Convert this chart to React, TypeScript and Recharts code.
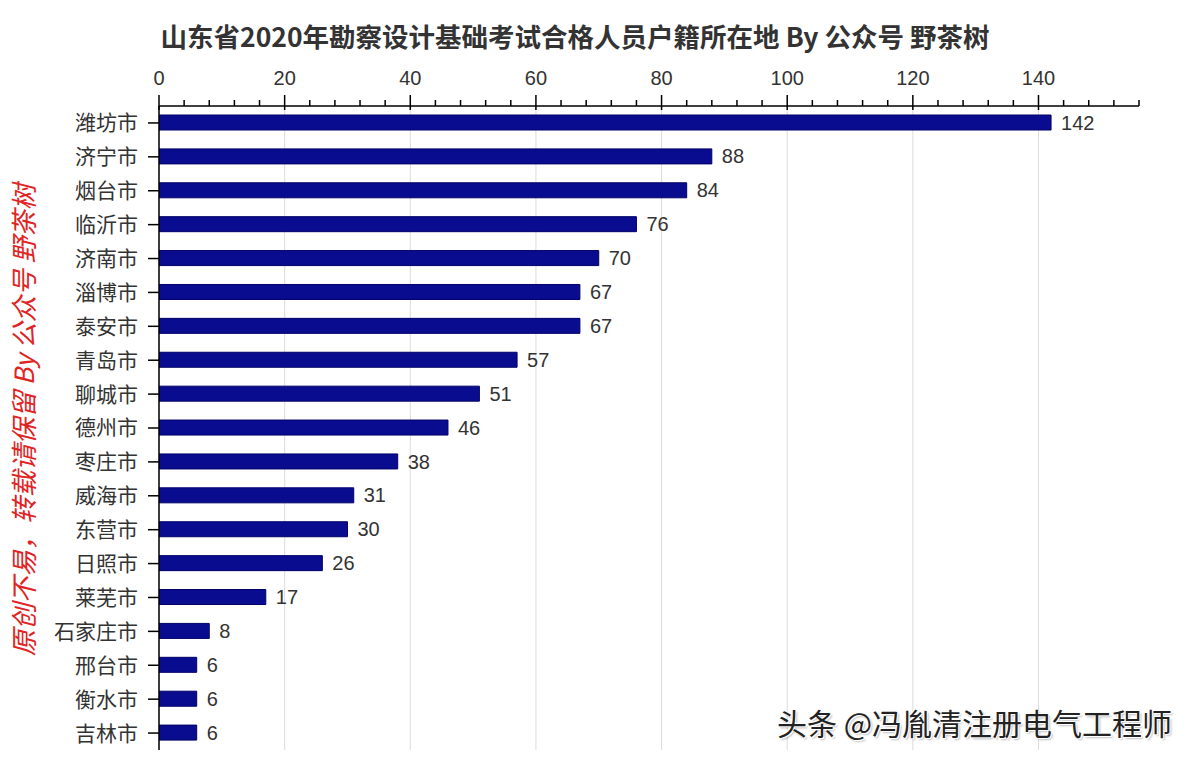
import { Bar, BarChart, CartesianGrid, LabelList, XAxis, YAxis } from 'recharts';

const cities = [
	'潍坊市', '济宁市', '烟台市', '临沂市', '济南市', '淄博市', '泰安市', '青岛市', '聊城市', '德州市',
	'枣庄市', '威海市', '东营市', '日照市', '莱芜市', '石家庄市', '邢台市', '衡水市', '吉林市',
];
const counts = [142, 88, 84, 76, 70, 67, 67, 57, 51, 46, 38, 31, 30, 26, 17, 8, 6, 6, 6];

const xTicks = [
	0, 4, 8, 12, 16, 20, 24, 28, 32, 36, 40, 44, 48, 52, 56, 60, 64, 68, 72, 76, 80, 84, 88, 92, 96, 100, 104,
	108, 112, 116, 120, 124, 128, 132, 136, 140, 144, 148, 152, 156,
];
const majorTicks = [0, 20, 40, 60, 80, 100, 120, 140];

const chartTitle = '山东省2020年勘察设计基础考试合格人员户籍所在地 By 公众号 野茶树';
const sideMark = '原创不易，转载请保留 By 公众号 野茶树';
const cornerMark = '头条 @冯胤清注册电气工程师';

const FONT = "'Liberation Sans', 'Noto Sans CJK SC', sans-serif";

const data = cities.map((name, i) => ({ name, count: counts[i] }));

const TopTick = (props: any) => {
	const { x, y, payload } = props;
	const major = majorTicks.includes(payload.value);
	return (
		<g>
			<line x1={x} x2={x} y1={major ? y - 11 : y - 6} y2={major ? y + 4 : y} stroke="#000" strokeWidth={1.5} />
			{major && (
				<text x={x} y={y - 21} textAnchor="middle" fontSize={20} fill="#333" fontFamily={FONT}>
					{payload.value}
				</text>
			)}
		</g>
	);
};

export default function App() {
	return (
		<div
			style={{
				position: 'absolute',
				left: 0,
				top: 0,
				width: 1200,
				height: 760,
				background: '#fff',
				fontFamily: FONT,
				overflow: 'hidden',
			}}
		>
			<div
				style={{
					position: 'absolute',
					left: 575,
					top: 35,
					transform: 'translate(-50%, -50%)',
					whiteSpace: 'nowrap',
					fontFamily: "'Noto Sans CJK SC', sans-serif",
					fontWeight: 700,
					fontSize: 26.5,
					color: '#333',
				}}
			>
				{chartTitle}
			</div>

			<BarChart
				width={1200}
				height={760}
				data={data}
				layout="vertical"
				margin={{ top: 46, right: 61, bottom: 10, left: 0 }}
			>
				<CartesianGrid horizontal={false} verticalValues={majorTicks} stroke="#dcdcdc" />
				<XAxis
					type="number"
					orientation="top"
					domain={[0, 156]}
					ticks={xTicks}
					interval={0}
					allowDataOverflow
					height={60}
					tickLine={false}
					tickSize={0}
					tickMargin={0}
					tick={<TopTick />}
					axisLine={{ stroke: '#000', strokeWidth: 1.5 }}
				/>
				<YAxis
					type="category"
					dataKey="name"
					width={159}
					interval={0}
					tickSize={11}
					tickMargin={10}
					tick={{ fontSize: 21, fill: '#333', fontFamily: "'Noto Sans CJK SC', sans-serif" }}
					tickLine={{ stroke: '#000', strokeWidth: 1.5 }}
					axisLine={{ stroke: '#000', strokeWidth: 1.5 }}
				/>
				<Bar dataKey="count" fill="#0a0c90" stroke="#000066" strokeWidth={1} barSize={15} isAnimationActive={false}>
					<LabelList dataKey="count" position="right" offset={10} fontSize={20} fill="#333" fontFamily={FONT} />
				</Bar>
			</BarChart>

			{/* watermark down the left edge */}
			<div
				style={{
					position: 'absolute',
					left: 22,
					top: 420,
					transform: 'translate(-50%, -50%) rotate(-90deg)',
					whiteSpace: 'nowrap',
					color: '#e02424',
					fontStyle: 'italic',
					fontSize: 26.5,
					fontFamily: "'Noto Sans CJK SC', sans-serif",
				}}
			>
				{sideMark}
			</div>

			<div
				style={{
					position: 'absolute',
					left: 777,
					top: 722,
					transform: 'translateY(-50%)',
					whiteSpace: 'nowrap',
					color: '#222',
					fontSize: 30,
					fontFamily: "'Noto Sans CJK SC', sans-serif",
					textShadow: '1px 1px 0 #fff, -1px -1px 0 #fff, 2px 2px 2px rgba(0,0,0,0.25)',
				}}
			>
				{cornerMark}
			</div>
		</div>
	);
}
